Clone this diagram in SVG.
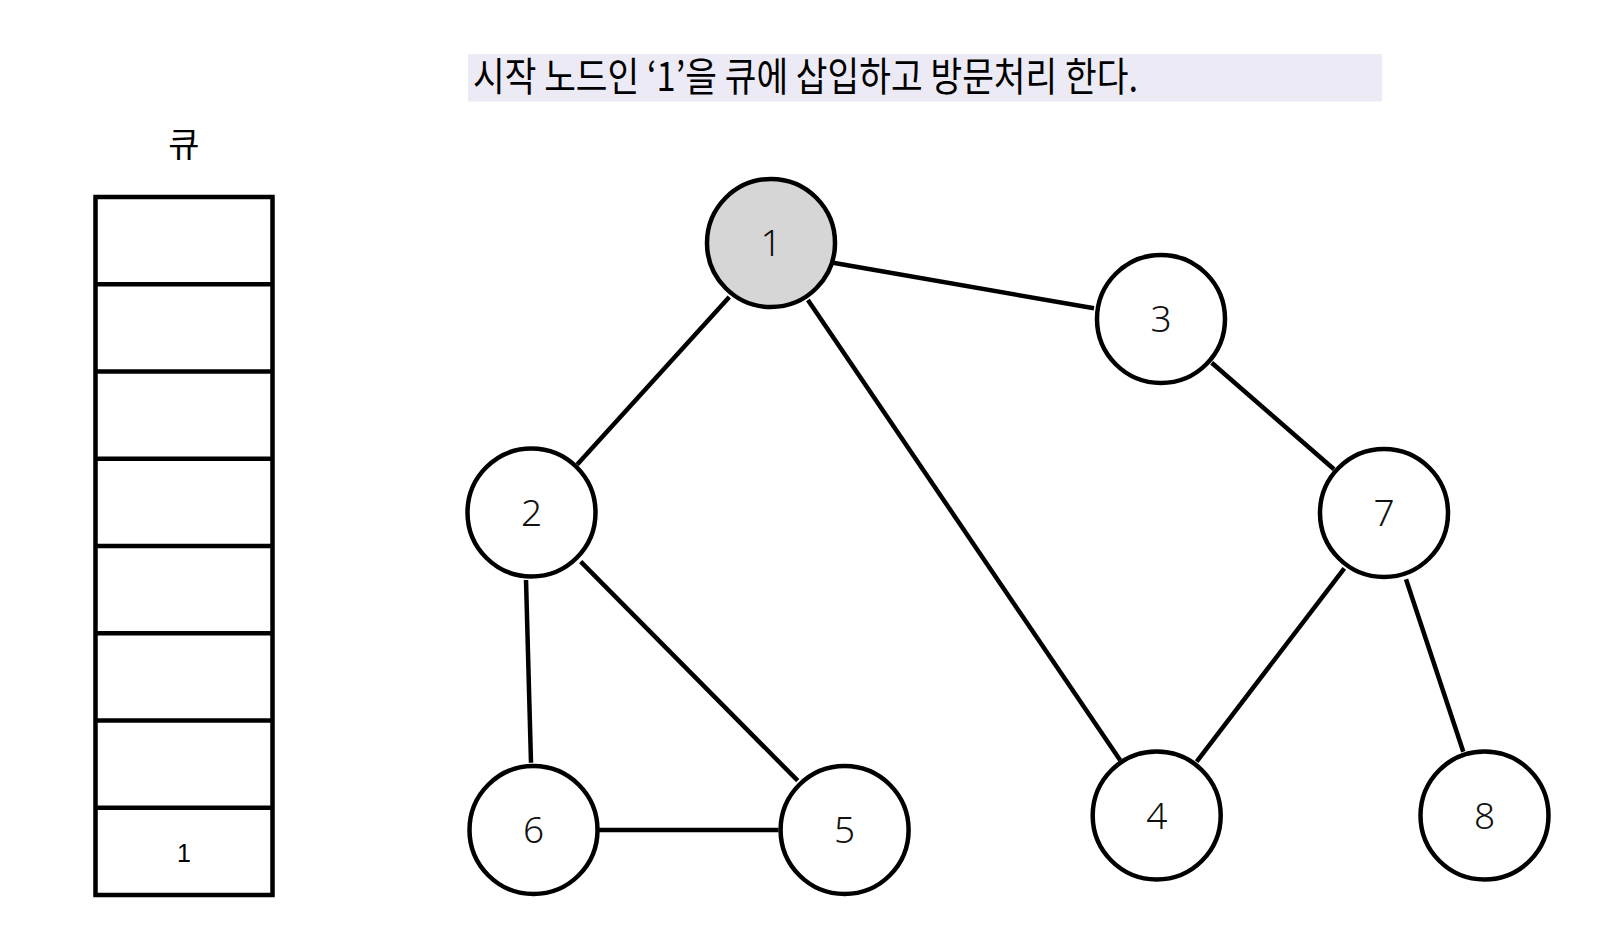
<svg xmlns="http://www.w3.org/2000/svg" width="1622" height="944" viewBox="0 0 1622 944">
<style>
.node{fill:#ffffff;stroke:#000;stroke-width:4.5}
.visited{fill:#d6d6d6}
.lbl{font-family:"Noto Sans","DejaVu Sans",sans-serif;font-size:37px;font-weight:300;fill:#111;text-anchor:middle}
.edge{stroke:#000;stroke-width:4.5;stroke-linecap:butt}
.cell{fill:#fff;stroke:#000;stroke-width:4.5}
.kr{font-family:"Noto Sans CJK KR","Noto Sans",sans-serif;fill:#000}
</style>
<rect width="1622" height="944" fill="#fff"/>
<g id="title">
<rect x="468" y="54" width="914" height="47.5" fill="#ECEAF4"/>
<text class="kr" x="473" y="91" font-size="40" textLength="665" lengthAdjust="spacingAndGlyphs">시작 노드인 ‘1’을 큐에 삽입하고 방문처리 한다.</text>
</g>
<g id="queue">
<text class="kr" x="184" y="157" font-size="34" text-anchor="middle">큐</text>
<rect class="cell" x="95.5" y="197" width="177" height="698"/>
<line class="edge" x1="95.5" y1="284.25" x2="272.5" y2="284.25"/>
<line class="edge" x1="95.5" y1="371.5" x2="272.5" y2="371.5"/>
<line class="edge" x1="95.5" y1="458.75" x2="272.5" y2="458.75"/>
<line class="edge" x1="95.5" y1="546" x2="272.5" y2="546"/>
<line class="edge" x1="95.5" y1="633.25" x2="272.5" y2="633.25"/>
<line class="edge" x1="95.5" y1="720.5" x2="272.5" y2="720.5"/>
<line class="edge" x1="95.5" y1="807.75" x2="272.5" y2="807.75"/>
<text x="184" y="862" font-family="Liberation Sans, Arial, sans-serif" font-size="25" text-anchor="middle" fill="#000">1</text>
</g>
<g id="edges">
<line class="edge" x1="833" y1="262.7" x2="1094" y2="308.3"/>
<line class="edge" x1="729.3" y1="296.9" x2="577.2" y2="464.4"/>
<line class="edge" x1="807.9" y1="300" x2="1120.2" y2="760.3"/>
<line class="edge" x1="1211.7" y1="362.7" x2="1334" y2="469.3"/>
<line class="edge" x1="526" y1="580" x2="531" y2="762.7"/>
<line class="edge" x1="580.7" y1="561.7" x2="797.7" y2="780.7"/>
<line class="edge" x1="599" y1="830" x2="778.5" y2="830"/>
<line class="edge" x1="1344.3" y1="568.3" x2="1196.7" y2="761.7"/>
<line class="edge" x1="1406" y1="579.3" x2="1463.3" y2="751.7"/>
</g>
<g id="node1"><circle class="node visited" cx="771" cy="243" r="64"/><text class="lbl" x="771" y="256">1</text></g>
<g id="node2"><circle class="node" cx="531.5" cy="512.5" r="64"/><text class="lbl" x="531.5" y="526">2</text></g>
<g id="node3"><circle class="node" cx="1161" cy="319" r="64"/><text class="lbl" x="1161" y="332">3</text></g>
<g id="node7"><circle class="node" cx="1384" cy="513" r="64"/><text class="lbl" x="1384" y="526">7</text></g>
<g id="node6"><circle class="node" cx="533.5" cy="830" r="64"/><text class="lbl" x="533.5" y="843">6</text></g>
<g id="node5"><circle class="node" cx="844.6" cy="830" r="64"/><text class="lbl" x="844.6" y="843">5</text></g>
<g id="node4"><circle class="node" cx="1156.7" cy="815.5" r="64"/><text class="lbl" x="1156.7" y="828.5">4</text></g>
<g id="node8"><circle class="node" cx="1484.5" cy="815.5" r="64"/><text class="lbl" x="1484.5" y="828.5">8</text></g>
</svg>
